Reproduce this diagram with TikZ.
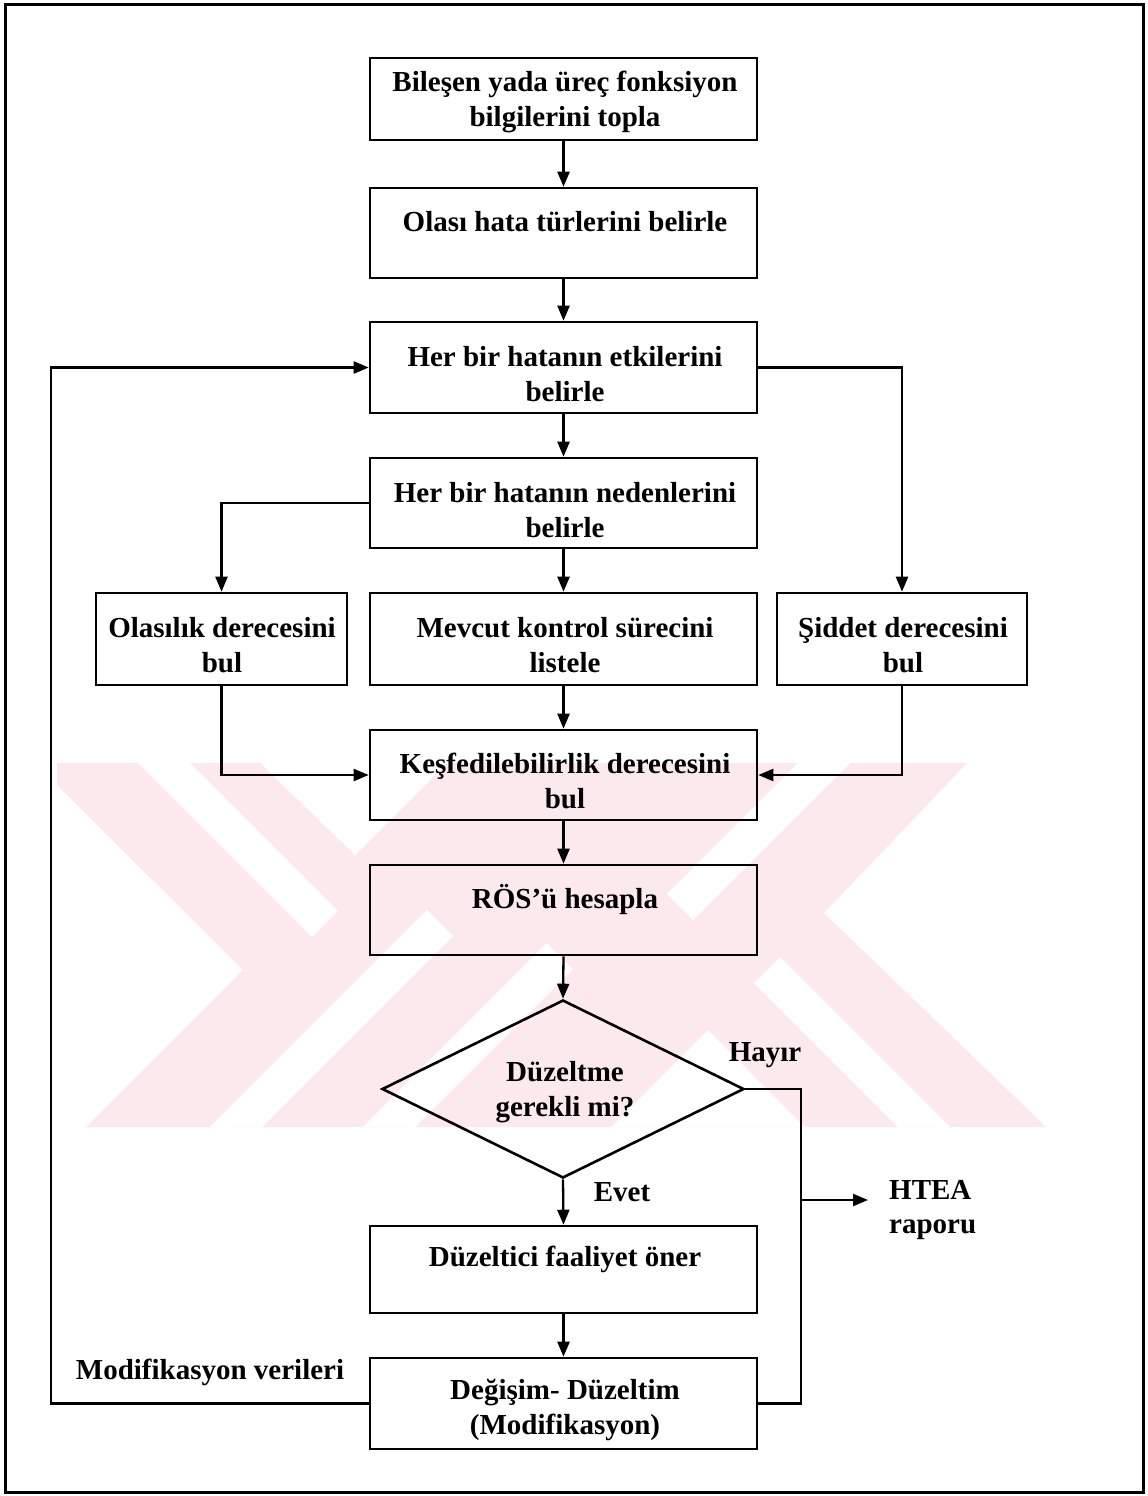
\documentclass[tikz,border=0pt]{standalone}
\usepackage{fontspec}
\setmainfont{Liberation Serif}
\usetikzlibrary{arrows.meta,shapes.geometric}
\definecolor{wmpink}{RGB}{252,233,237}
\begin{document}
\begin{tikzpicture}[x=1pt,y=-1pt,
  box/.style={draw, line width=2.6pt, rectangle, inner sep=0pt, minimum width=387pt},
  txt/.style={font=\fontsize{29}{34.5}\selectfont\bfseries, align=center, inner sep=0pt},
  conn/.style={line width=2.3pt},
  arr/.style={conn, -{Triangle[length=15pt,width=12pt]}},
  cut/.style={draw=white, line width=37pt}
]
\useasboundingbox (0,0) rectangle (1148,1496);
% watermark
\begin{scope}
\clip (57,763) -- (967,763) -- (824,913) -- (1046,1127) -- (86,1127) -- (243,970) -- (57,785) -- cycle;
\fill[wmpink] (0,700) rectangle (1100,1200);
\draw[cut] (151,750) -- (325,924);
\fill[white] (260,763) -- (355,855) -- (447,763) -- cycle;
\draw[cut] (223,1140) -- (440,923);
\draw[cut] (376,1140) -- (560,956);
\fill[white] (611,1127) -- (708,1030) -- (805,1127) -- cycle;
\draw[cut] (837,750) -- (680,907);
\draw[cut] (767,970) -- (950,1153);
\end{scope}
% frame
\draw[line width=3pt] (5,5) rectangle (1143,1492);
% boxes
\node[box, minimum height=82pt] (b1) at (563.5,99) {};
\node[box, minimum height=90pt] (b2) at (563.5,233) {};
\node[box, minimum height=91pt] (b3) at (563.5,367.5) {};
\node[box, minimum height=90pt] (b4) at (563.5,503) {};
\node[box, minimum width=251pt, minimum height=92pt] (b5) at (221.5,639) {};
\node[box, minimum height=92pt] (b6) at (563.5,639) {};
\node[box, minimum width=250pt, minimum height=92pt] (b7) at (902,639) {};
\node[box, minimum height=90pt] (b8) at (563.5,775) {};
\node[box, minimum height=90pt] (b9) at (563.5,910) {};
\node[draw, diamond, line width=2.6pt, inner sep=0pt, minimum width=362pt, minimum height=178pt] (d) at (563,1089) {};
\node[box, minimum height=87pt] (b10) at (563.5,1269.5) {};
\node[box, minimum height=91pt] (b11) at (563.5,1403.5) {};
% texts
\node[txt] (t1) at (565,102) {Bileşen yada üreç fonksiyon\\bilgilerini topla};
\node[txt] (t2) at (565,222) {Olası hata türlerini belirle};
\node[txt] (t3) at (565,374) {Her bir hatanın etkilerini\\belirle};
\node[txt] (t4) at (565,510) {Her bir hatanın nedenlerini\\belirle};
\node[txt] (t5) at (222,645) {Olasılık derecesini\\bul};
\node[txt] (t6) at (565,645) {Mevcut kontrol sürecini\\listele};
\node[txt] (t7) at (903,645) {Şiddet derecesini\\bul};
\node[txt] (t8) at (565,781) {Keşfedilebilirlik derecesini\\bul};
\node[txt] (t9) at (565,900) {RÖS’ü hesapla};
\node[txt] (t10) at (565,1092) {Düzeltme\\gerekli mi?};
\node[txt] (t11) at (565,1259) {Düzeltici faaliyet öner};
\node[txt] (t12) at (565,1410) {Değişim- Düzeltim\\(Modifikasyon)};
\node[txt] (hayir) at (765,1055) {Hayır};
\node[txt] (evet) at (622,1192) {Evet};
\node[txt, align=left, anchor=west] (htea) at (889,1210) {HTEA\\raporu};
\node[txt] (modv) at (210,1372) {Modifikasyon verileri};
% connectors
\draw[arr] (b1.south) -- (b2.north);
\draw[arr] (b2.south) -- (b3.north);
\draw[arr] (b3.south) -- (b4.north);
\draw[arr] (b4.south) -- (b6.north);
\draw[arr] (b6.south) -- (b8.north);
\draw[arr] (b8.south) -- (b9.north);
\draw[arr] (b9.south) -- (d.north);
\draw[arr] (d.south) -- (b10.north);
\draw[arr] (b10.south) -- (b11.north);
\draw[arr] (b3.east) -| (b7.north);
\draw[arr] (b4.west) -| (b5.north);
\draw[arr] (b5.south) |- (b8.west);
\draw[arr] (b7.south) |- (b8.east);
\coordinate (fbtop) at (51,367.5);
\draw[arr] (b11.west) -| (fbtop) -- (b3.west);
\coordinate (rc) at (801,1403.5);
\draw[conn] (d.east) -| (rc) -- (b11.east);
\coordinate (hs) at (801,1200);
\coordinate (he) at (868,1200);
\draw[arr] (hs) -- (he);
\end{tikzpicture}
\end{document}
